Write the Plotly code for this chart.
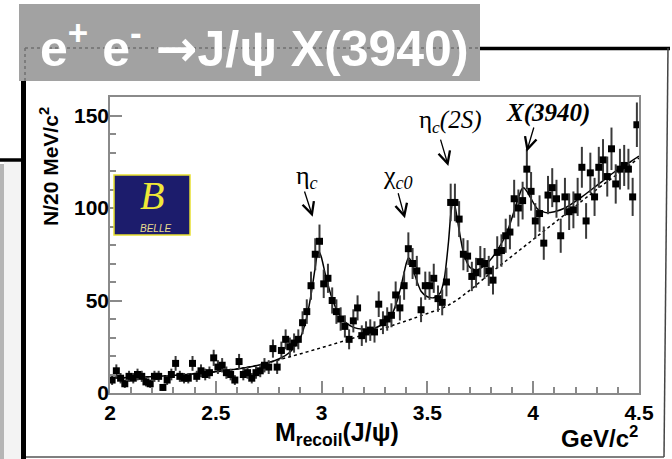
import numpy as np
import plotly.graph_objects as go

# ---------------- data ----------------
mass = [2.01, 2.03, 2.05, 2.07, 2.09, 2.11, 2.13, 2.15, 2.17, 2.19,
        2.21, 2.23, 2.25, 2.27, 2.29, 2.31, 2.33, 2.35, 2.37, 2.39,
        2.41, 2.43, 2.45, 2.47, 2.49, 2.51, 2.53, 2.55, 2.57, 2.59,
        2.61, 2.63, 2.65, 2.67, 2.69, 2.71, 2.73, 2.75, 2.77, 2.79,
        2.81, 2.83, 2.85, 2.87, 2.89, 2.91, 2.93, 2.95, 2.97, 2.99,
        3.01, 3.03, 3.05, 3.07, 3.09, 3.11, 3.13, 3.15, 3.17, 3.19,
        3.21, 3.23, 3.25, 3.27, 3.29, 3.31, 3.33, 3.35, 3.37, 3.39,
        3.41, 3.43, 3.45, 3.47, 3.49, 3.51, 3.53, 3.55, 3.57, 3.59,
        3.61, 3.63, 3.65, 3.67, 3.69, 3.71, 3.73, 3.75, 3.77, 3.79,
        3.81, 3.83, 3.85, 3.87, 3.89, 3.91, 3.93, 3.95, 3.97, 3.99,
        4.01, 4.03, 4.05, 4.07, 4.09, 4.11, 4.13, 4.15, 4.17, 4.19,
        4.21, 4.23, 4.25, 4.27, 4.29, 4.31, 4.33, 4.35, 4.37, 4.39,
        4.41, 4.43, 4.45, 4.47, 4.49]

counts = [7, 12, 8, 5, 9, 8, 10, 9, 6, 5,
          9, 9, 3, 7, 10, 16, 9, 8, 8, 16,
          9, 12, 10, 11, 19, 14, 15, 11, 10, 7,
          17, 10, 11, 8, 11, 12, 15, 14, 24, 14,
          23, 29, 25, 27, 29, 38, 44, 58, 75, 82,
          59, 62, 50, 44, 40, 36, 29, 39, 46, 31,
          33, 34, 33, 48, 38, 40, 42, 53, 46, 58,
          78, 70, 66, 45, 58, 58, 62, 51, 49, 60,
          103, 103, 94, 75, 74, 63, 65, 71, 70, 66,
          61, 76, 77, 85, 87, 105, 100, 104, 121, 109,
          93, 97, 81, 107, 111, 105, 85, 106, 98, 99,
          106, 122, 93, 119, 106, 122, 126, 117, 132, 113,
          121, 123, 121, 106, 145]

fit_x = [2.0, 2.25, 2.5, 2.7, 2.8, 2.85, 2.9, 2.93, 2.95, 2.97, 2.98, 2.99, 3.0,
         3.02, 3.05, 3.08, 3.11, 3.15, 3.2, 3.25, 3.3, 3.33, 3.36, 3.38, 3.4,
         3.41, 3.42, 3.44, 3.47, 3.5, 3.53, 3.56, 3.58, 3.6, 3.61, 3.62, 3.63,
         3.65, 3.67, 3.7, 3.73, 3.76, 3.79, 3.83, 3.88, 3.92, 3.945, 3.955,
         3.97, 3.99, 4.02, 4.06, 4.1, 4.15, 4.23, 4.31, 4.39, 4.46, 4.5]
fit_y = [8, 9.2, 11.5, 15, 18.5, 22, 30, 41, 53, 68, 75, 76, 73,
         63, 51, 43, 38.5, 35.5, 34.5, 35, 38, 42, 51, 60, 70,
         73, 72, 64, 55, 52, 51.5, 54, 62, 82, 96, 103, 101,
         88, 76, 68, 66.5, 68, 71, 77, 88, 102, 110, 111,
         109, 105, 99.5, 97.5, 98, 100, 106, 113, 120, 125, 128]

bkg_x = [2.0, 2.25, 2.5, 2.7, 2.8, 3.0, 3.2, 3.4, 3.5, 3.6, 3.7, 3.8, 3.9,
         4.0, 4.1, 4.2, 4.3, 4.4, 4.5]
bkg_y = [8, 9.2, 11.5, 15, 18, 24.5, 31.5, 39, 43, 47.5, 55.5, 65, 74,
         83, 92, 101, 110, 118.5, 127]

x_ticks = [2, 2.5, 3, 3.5, 4, 4.5]
x_ticktext = ["2", "2.5", "3", "3.5", "4", "4.5"]
y_ticks = [0, 50, 100, 150]
y_ticktext = ["0", "50", "100", "150"]

peak_labels = ["η<sub><i>c</i></sub>", "χ<sub><i>c0</i></sub>",
               "η<sub><i>c</i></sub><i>(2S)</i>", "<b><i>X(3940)</i></b>"]

# ---------------- geometry helpers (pixel -> paper) ----------------
W, H = 672, 459
L, R, T, B = 110, 639, 97, 393


def px(x):
    return (x - L) / (R - L)


def py(y):
    return (B - y) / (B - T)


fig = go.Figure()

fig.add_trace(go.Scatter(x=bkg_x, y=bkg_y, mode="lines",
                         line=dict(color="black", width=1.5, dash="dot", shape="spline"),
                         hoverinfo="skip"))
fig.add_trace(go.Scatter(x=fit_x, y=fit_y, mode="lines",
                         line=dict(color="black", width=1.5, shape="spline", smoothing=0.6),
                         hoverinfo="skip"))
fig.add_trace(go.Scatter(x=mass, y=counts, mode="markers",
                         marker=dict(symbol="square", size=7, color="black"),
                         error_y=dict(type="data", array=np.sqrt(np.array(counts, float)),
                                      color="#3a3a3a", thickness=2, width=0)))

tickfont = dict(family="Liberation Sans", size=21, color="black", weight="bold")
fig.update_layout(
    width=W, height=H, autosize=False,
    margin=dict(l=L, r=W - R, t=T, b=H - B, pad=0),
    paper_bgcolor="white", plot_bgcolor="white", showlegend=False,
    xaxis=dict(range=[2, 4.5], tickvals=x_ticks, ticktext=x_ticktext,
               ticks="inside", ticklen=12, tickwidth=1.5, tickcolor="#8a8a8a",
               showline=True, linecolor="#8a8a8a", linewidth=1.5, mirror=True,
               showgrid=False, zeroline=False, tickfont=tickfont, automargin=False,
               minor=dict(tickmode="linear", tick0=2, dtick=0.1, ticks="inside",
                          ticklen=6, tickwidth=1.5, tickcolor="#8a8a8a", showgrid=False)),
    yaxis=dict(range=[0, 160], tickvals=y_ticks, ticktext=y_ticktext,
               ticks="inside", ticklen=12, tickwidth=1.5, tickcolor="#8a8a8a",
               showline=True, linecolor="#8a8a8a", linewidth=1.5, mirror=True,
               showgrid=False, zeroline=False, tickfont=tickfont, automargin=False,
               ticklabelstandoff=-5,
               minor=dict(tickmode="linear", tick0=0, dtick=10, ticks="inside",
                          ticklen=6, tickwidth=1.5, tickcolor="#8a8a8a", showgrid=False)),
)

shapes = []
# title banner
shapes.append(dict(type="rect", xref="paper", yref="paper", x0=px(19), x1=px(480),
                   y0=py(81), y1=py(4), fillcolor="#a2a2a2", line=dict(width=0), layer="above"))
shapes.append(dict(type="line", xref="paper", yref="paper", x0=px(25), x1=px(480),
                   y0=py(48), y1=py(48), line=dict(color="#707070", width=1.5, dash="dot")))
shapes.append(dict(type="line", xref="paper", yref="paper", x0=px(25), x1=px(25),
                   y0=py(48), y1=py(81), line=dict(color="#707070", width=1.5, dash="dot")))
# outer slide frame
shapes.append(dict(type="line", xref="paper", yref="paper", x0=px(480), x1=px(670),
                   y0=py(48.5), y1=py(48.5), line=dict(color="black", width=3.5)))
shapes.append(dict(type="line", xref="paper", yref="paper", x0=px(668), x1=px(664),
                   y0=py(48), y1=py(457), line=dict(color="#444444", width=1.5)))
shapes.append(dict(type="line", xref="paper", yref="paper", x0=px(24), x1=px(664),
                   y0=py(457), y1=py(457), line=dict(color="#555555", width=1.5)))
# left panel pieces
shapes.append(dict(type="rect", xref="paper", yref="paper", x0=px(4), x1=px(21),
                   y0=py(459), y1=py(162), fillcolor="#f3f3f3", line=dict(width=0)))
shapes.append(dict(type="rect", xref="paper", yref="paper", x0=px(0), x1=px(4),
                   y0=py(459), y1=py(164), fillcolor="#b5b5b5", line=dict(width=0)))
shapes.append(dict(type="line", xref="paper", yref="paper", x0=px(0), x1=px(24),
                   y0=py(160), y1=py(160), line=dict(color="black", width=3.5)))
shapes.append(dict(type="line", xref="paper", yref="paper", x0=px(23.5), x1=px(23.5),
                   y0=py(81), y1=py(459), line=dict(color="black", width=5)))
# Belle logo box
shapes.append(dict(type="rect", xref="paper", yref="paper", x0=px(114), x1=px(190),
                   y0=py(235), y1=py(175), fillcolor="#1c1c6c",
                   line=dict(color="#e8e030", width=1.5)))
fig.update_layout(shapes=shapes)

ann = []
ann.append(dict(xref="paper", yref="paper", x=px(38), y=py(46), xanchor="left", yanchor="middle",
                text="e<sup>+</sup> e<sup>-</sup> <span style='font-family:DejaVu Sans'>→</span>J/ψ X(3940)",
                showarrow=False,
                font=dict(family="Liberation Sans", size=50, color="white", weight="bold")))
ann.append(dict(xref="paper", yref="paper", x=px(152), y=py(195), xanchor="center", yanchor="middle",
                text="<i>B</i>", showarrow=False,
                font=dict(family="Liberation Serif", size=40, color="#f0e838")))
ann.append(dict(xref="paper", yref="paper", x=px(155), y=py(228), xanchor="center", yanchor="middle",
                text="<i>BELLE</i>", showarrow=False,
                font=dict(family="Liberation Sans", size=10, color="#e8dc8c")))
# axis titles
ann.append(dict(xref="paper", yref="paper", x=px(49), y=py(167), xanchor="center", yanchor="middle",
                text="N/20 MeV/c<sup>2</sup>", textangle=-90, showarrow=False,
                font=dict(family="Liberation Sans", size=21, color="black", weight="bold")))
ann.append(dict(xref="paper", yref="paper", x=px(337), y=py(434), xanchor="center", yanchor="middle",
                text="M<sub>recoil</sub>(J/ψ)", showarrow=False,
                font=dict(family="Liberation Sans", size=25, color="black", weight="bold")))
ann.append(dict(xref="paper", yref="paper", x=px(640), y=py(437), xanchor="right", yanchor="middle",
                text="GeV/c<sup>2</sup>", showarrow=False,
                font=dict(family="Liberation Sans", size=24, color="black", weight="bold")))

# peak labels and arrows (data coordinates)
label_pos = [(2.93, 117), (3.361, 117), (3.611, 146.5), (4.068, 151.6)]
arrow_tail = [(2.917, 109.7), (3.36, 108.8), (3.56, 137.8), (4.005, 144.3)]
arrow_tip = [(2.958, 95.3), (3.394, 94.4), (3.599, 122.7), (3.969, 130.4)]
sizes = [26, 26, 25, 25]
for lab, (lx, ly), (tx, ty), (hx, hy), s in zip(peak_labels, label_pos, arrow_tail, arrow_tip, sizes):
    ann.append(dict(x=lx, y=ly, xref="x", yref="y", text=lab, showarrow=False,
                    xanchor="center", yanchor="middle",
                    font=dict(family="Liberation Serif", size=s, color="black")))
    ann.append(dict(x=hx, y=hy, xref="x", yref="y", ax=tx, ay=ty, axref="x", ayref="y",
                    text="", showarrow=True, arrowhead=5, arrowsize=1.8, arrowwidth=1.3,
                    arrowcolor="black"))
fig.update_layout(annotations=ann)

fig.write_html("out.html", config={"displayModeBar": False},
               post_script="document.body.style.margin='0';")
